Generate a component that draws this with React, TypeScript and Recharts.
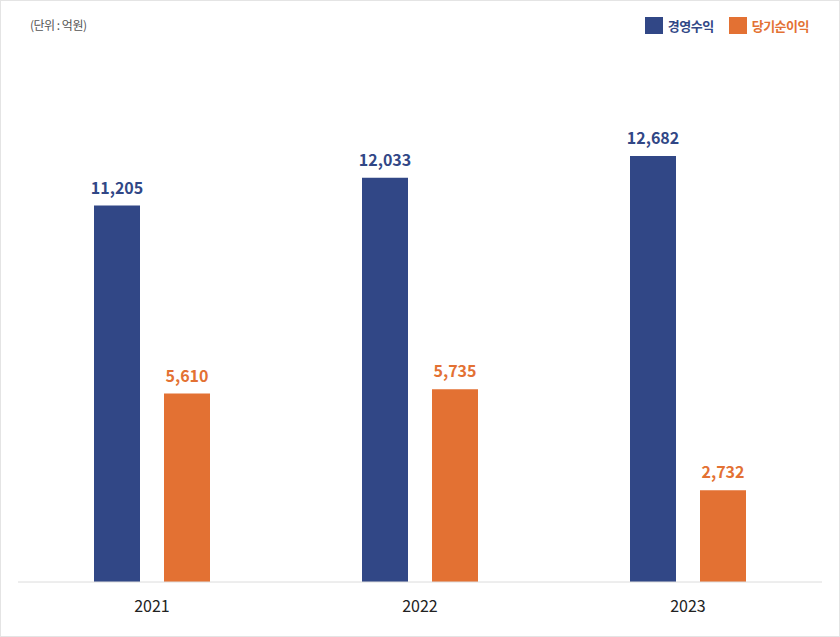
import { BarChart, Bar, XAxis, YAxis, LabelList } from "recharts";

const years = ["2021", "2022", "2023"];
const operatingRevenue = [11205, 12033, 12682];
const netIncome = [5610, 5735, 2732];

const BLUE = "#314786";
const ORANGE = "#e37133";
const FONT = "'Noto Sans CJK KR', 'Noto Sans', sans-serif";

const data = years.map((y, i) => ({
    year: y,
    revenue: operatingRevenue[i],
    income: netIncome[i],
}));

const fmt = (v: any) => Number(v).toLocaleString("en-US");

const LegendBox = () => (
    <div
        style={{
            position: "absolute",
            top: 17,
            right: 31,
            display: "flex",
            alignItems: "center",
            fontFamily: FONT,
            fontSize: 13,
            fontWeight: 700,
            letterSpacing: -0.5,
            lineHeight: "17px",
        }}
    >
        <span style={{ width: 18, height: 17, background: BLUE, display: "inline-block" }} />
        <span style={{ color: BLUE, marginLeft: 5 }}>경영수익</span>
        <span style={{ width: 18, height: 17, background: ORANGE, display: "inline-block", marginLeft: 15 }} />
        <span style={{ color: ORANGE, marginLeft: 5 }}>당기순이익</span>
    </div>
);

export default function App() {
    return (
        <div style={{ position: "absolute", top: 0, left: 0, width: 840, height: 637, background: "#fff" }}>
            <BarChart
                width={840}
                height={637}
                data={data}
                margin={{ top: 78, right: 18, bottom: 0, left: 18 }}
                barSize={46}
                barGap={24}
            >
                <XAxis
                    dataKey="year"
                    height={55}
                    axisLine={{ stroke: "#dcdcdc" }}
                    tickLine={false}
                    tickSize={0}
                    tickMargin={19}
                    tick={{ fill: "#222", fontSize: 16, fontFamily: FONT }}
                />
                <YAxis hide domain={[0, 15000]} />
                <Bar dataKey="revenue" fill={BLUE} isAnimationActive={false}>
                    <LabelList
                        dataKey="revenue"
                        position="top"
                        offset={12}
                        formatter={fmt}
                        style={{ fill: BLUE, fontSize: 16, fontWeight: 700, fontFamily: FONT }}
                    />
                </Bar>
                <Bar dataKey="income" fill={ORANGE} isAnimationActive={false}>
                    <LabelList
                        dataKey="income"
                        position="top"
                        offset={12}
                        formatter={fmt}
                        style={{ fill: ORANGE, fontSize: 16, fontWeight: 700, fontFamily: FONT }}
                    />
                </Bar>
            </BarChart>
            <div
                style={{
                    position: "absolute",
                    left: 30,
                    top: 16,
                    fontFamily: FONT,
                    fontSize: 12,
                    letterSpacing: -0.5,
                    color: "#555",
                }}
            >
                (단위 : 억원)
            </div>
            <LegendBox />
            <div
                style={{
                    position: "absolute",
                    inset: 0,
                    border: "1px solid #e4e4e4",
                    pointerEvents: "none",
                }}
            />
        </div>
    );
}
